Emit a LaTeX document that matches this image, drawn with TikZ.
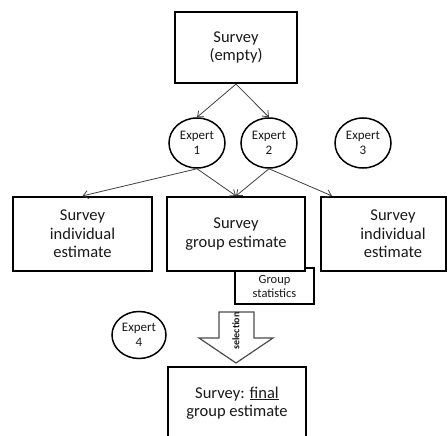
\documentclass[tikz,border=0pt]{standalone}
\usepackage{fontspec}
\setmainfont{Carlito}
\usetikzlibrary{shapes.geometric,arrows.meta,calc}
\begin{document}
\begin{tikzpicture}[x=1pt,y=-1pt,
  surveybox/.style={draw=black,line width=2.2pt,fill=white,inner sep=0pt,align=center,text=black!90,
    font=\fontsize{16.5}{18.5}\selectfont},
  expertnode/.style={ellipse,draw=black,line width=1.5pt,fill=white,inner sep=0pt,align=center,text=black!90,
    minimum width=56pt,minimum height=50pt,font=\fontsize{13}{15.5}\selectfont},
  arr/.style={draw=black!75,line width=0.8pt,-{Straight Barb[length=5pt,width=8pt]}},
]
\clip (0,0) rectangle (448,436);
\fill[white] (0,0) rectangle (448,436);

% top box
\node[surveybox,minimum width=122pt,minimum height=71pt] (top) at (236,47.5) {Survey\\(empty)};

% experts
\node[expertnode] (e1) at (197,143) {Expert\\1};
\node[expertnode] (e2) at (269,143) {Expert\\2};
\node[expertnode] (e3) at (363,143) {Expert\\3};

% group statistics (behind centre box)
\node[draw=black,line width=1.3pt,fill=white,minimum width=79pt,minimum height=36pt,inner sep=0pt,align=center,
  text=black!90,font=\fontsize{12.5}{14}\selectfont] (gs) at (274.5,286) {Group\\statistics};

% three survey boxes
\node[surveybox,minimum width=139pt,minimum height=74pt] (lb) at (82.5,234) {Survey\\individual\\estimate};
\node[surveybox,minimum width=138pt,minimum height=74pt] (cb) at (236,234) {Survey\\group estimate};
\node[surveybox,minimum width=125pt,minimum height=74pt] (rb) at (383.5,234) {};
\node[align=center,inner sep=0pt,text=black!90,font=\fontsize{16.5}{18.5}\selectfont] (rbt) at (393,234) {Survey\\individual\\estimate};

% connectors
\draw[arr] (top.south) -- (e1.north);
\draw[arr] (top.south) -- (e2.north);
\draw[arr] (e1.south) -- (lb.north);
\draw[arr] (e1.south) -- (cb.north);
\draw[arr] (e2.south) -- (cb.north);
\coordinate (rbin) at ($(rb.north west)+(12,0)$);
\draw[arr] (e2.south) -- (rbin);

% expert 4
\node[expertnode,minimum width=54pt,minimum height=47pt] (e4) at (139,335) {Expert\\4};

% selection block arrow
\draw[draw=black!70,line width=1.2pt,fill=white,line join=miter]
  (219,312) -- (254,312) -- (254,338) -- (273,338) -- (236,363) -- (199,338) -- (219,338) -- cycle;
\node[rotate=90,inner sep=0pt,text=black!90,font=\fontsize{10}{11}\bfseries] (sel) at (236,331) {selection};

% final box (bottom cut by the picture edge)
\node[surveybox,minimum width=138pt,minimum height=72pt] (fin) at (237,403) {Survey: \underline{final}\\group estimate};
\end{tikzpicture}
\end{document}
